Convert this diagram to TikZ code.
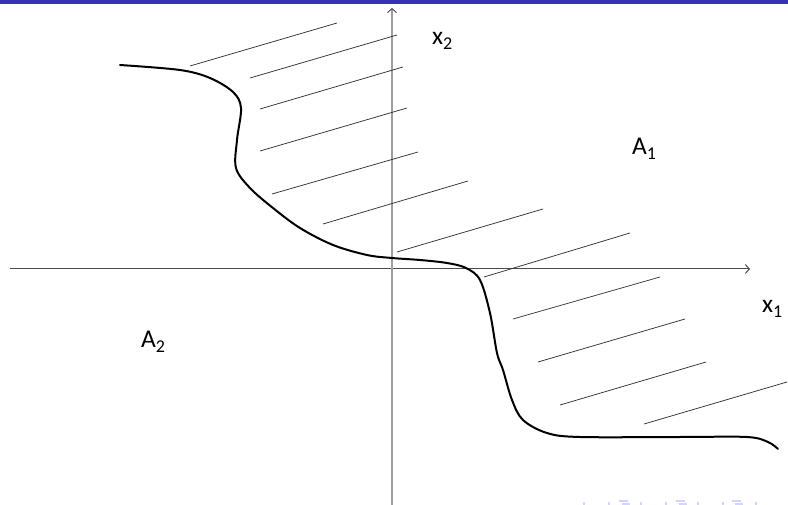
\documentclass[tikz,border=0pt]{standalone}
\usepackage{fontspec}
\setmainfont{Carlito}
\usetikzlibrary{arrows.meta}
\newcommand\subs[1]{\raisebox{-4.5pt}{\fontsize{18}{18}\selectfont #1}}
\begin{document}
\begin{tikzpicture}[x=1pt,y=-1pt,
  hatch/.style={draw=black!80,line width=0.75pt},
  axisx/.style={draw=black!70,line width=1pt,-{Straight Barb[length=4pt,width=9pt]}},
  axisy/.style={draw=black!38,line width=1.6pt,-{Straight Barb[length=4pt,width=9pt,line width=0.9pt,black!70]}},
  curve/.style={draw=black,line width=2pt,line cap=round},
  lbl/.style={inner sep=0pt,font=\fontsize{25.5}{27}\selectfont},
  navmark/.style={fill=blue!50!white,opacity=0.35}]
\useasboundingbox (0,0) rectangle (788,505);
\fill[fill={rgb,255:red,51;green,51;blue,179}] (0,0) rectangle (788,4);
% axes
\coordinate (xs) at (10,269);
\coordinate (xe) at (750,269);
\coordinate (ys) at (392,505);
\coordinate (ye) at (392,8);
\draw[axisx] (xs) -- (xe);
\draw[axisy] (ys) -- (ye);
% hatch lines
\foreach \ax/\ay/\bx/\by in {190/66/337/23, 250/78/397/35, 260/109/403/67, 260/151/407/108,
  272/194/418/152, 323/224/468/181, 397/252/543/209, 484/277/630/233,
  513/319/660/277, 538/362/685/319, 560/405/706/362, 644/424/787/382}
  \draw[hatch] (\ax,\ay) -- (\bx,\by);
% boundary curve
\draw[curve] plot[smooth,tension=0.55] coordinates {
 (120,65) (180,70) (210,78) (233,92) (241,108) (237,140) (236,168)
 (250,188) (273,208) (300,228) (333,245) (367,255) (392,258) (420,260) (447,263)
 (466,268) (480,280) (490,313) (497,353) (503,370) (512,400) (523,420) (547,433)
 (580,437) (680,437) (747,437) (768,442) (778,449)};
% labels
\node[lbl,anchor=base west] (x2) at (432,45) {x\subs{2}};
\node[lbl,anchor=base west] (x1) at (762,313) {x\subs{1}};
\node[lbl,anchor=base west] (a1) at (632,155) {A\subs{1}};
\node[lbl,anchor=base west] (a2) at (141,348) {A\subs{2}};
% faint navigation symbols (cut at page bottom)
\foreach \p in {583,608,640,665,697,722,755}
  \fill[navmark] (\p,502) rectangle (\p+1.5,505);
\foreach \p in {620,677,733}
  {\fill[navmark] (\p-1,500) rectangle (\p+8,501.5);
   \fill[navmark] (\p+2,503) rectangle (\p+10,505);}
\end{tikzpicture}
\end{document}
